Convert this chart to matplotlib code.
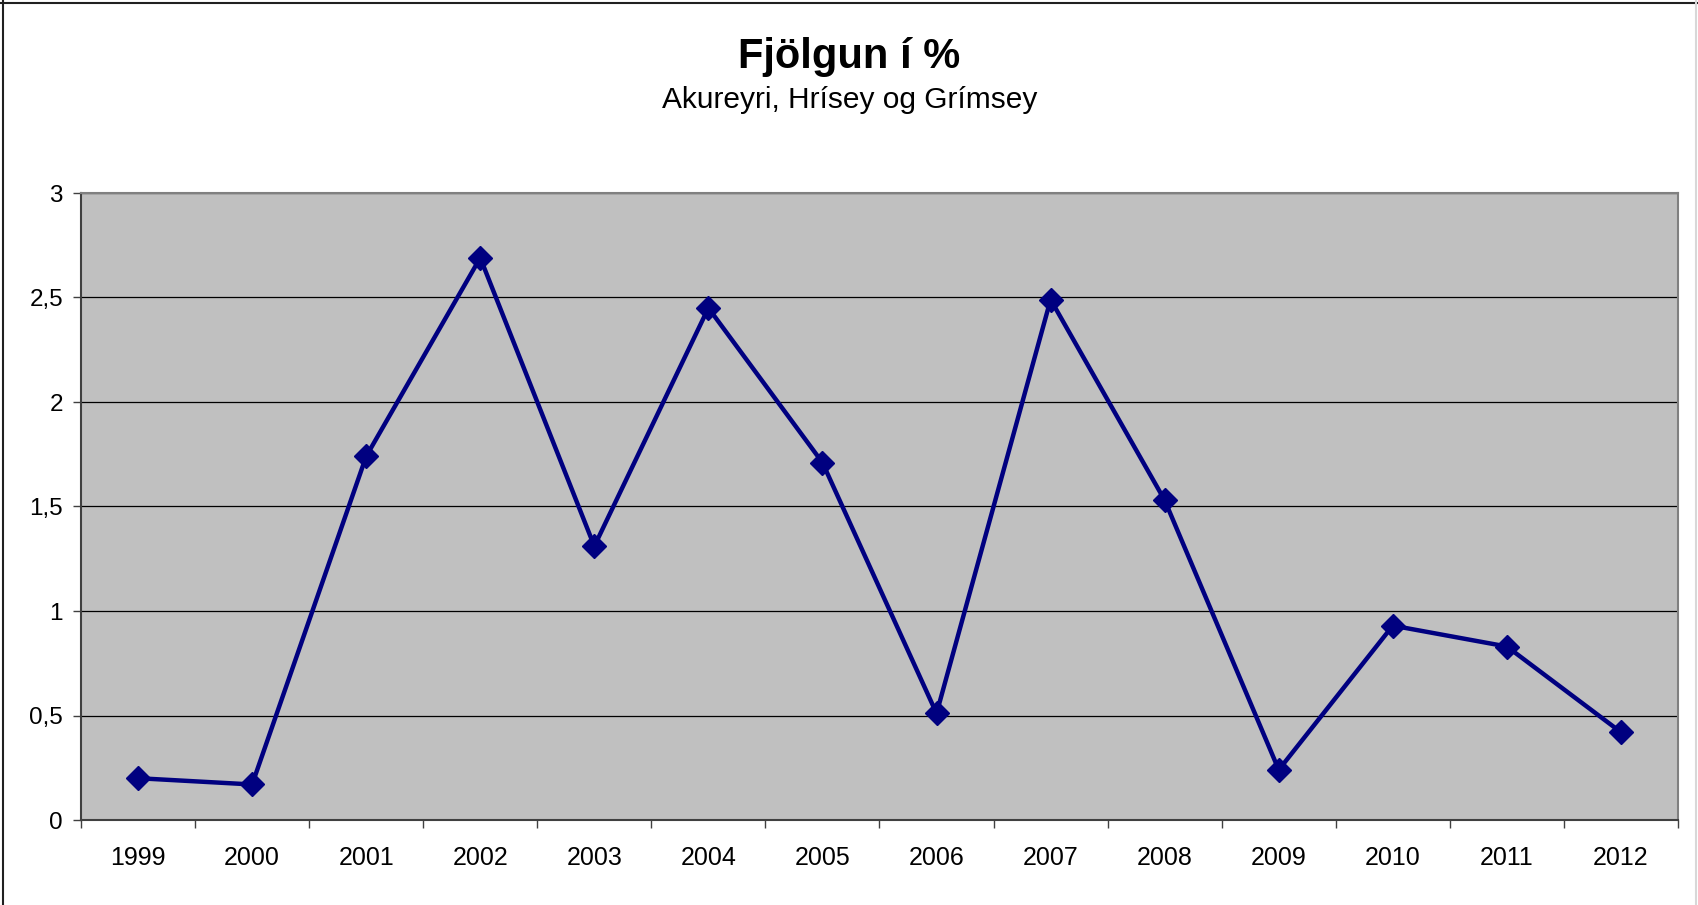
import numpy as np
import matplotlib.pyplot as plt
from matplotlib.ticker import FixedLocator, NullFormatter

years = ['1999', '2000', '2001', '2002', '2003', '2004', '2005',
         '2006', '2007', '2008', '2009', '2010', '2011', '2012']
growth = [0.20, 0.17, 1.74, 2.69, 1.31, 2.45, 1.71,
          0.51, 2.49, 1.53, 0.24, 0.93, 0.83, 0.42]
yticks = [0, 0.5, 1, 1.5, 2, 2.5, 3]

plt.rcParams['font.family'] = ['Liberation Sans', 'DejaVu Sans']

fig = plt.figure(figsize=(16.99, 9.05), dpi=100)
ax = fig.add_axes([81 / 1699, 85 / 905, 1597 / 1699, 627 / 905])
ax.set_facecolor('#C0C0C0')

x = np.arange(len(years))
ax.plot(x, growth, color='#000080', lw=3.2, marker='D', ms=12.5,
        zorder=3)

ax.set_xlim(-0.5, len(years) - 0.5)
ax.set_ylim(0, 3)

# category boundaries carry the ticks, labels sit in the middle
ax.xaxis.set_major_locator(FixedLocator(np.arange(-0.5, len(years))))
ax.xaxis.set_major_formatter(NullFormatter())
ax.set_xticks(x, years, minor=True)
ax.tick_params(axis='x', which='major', direction='out', length=6,
               width=1, color='#404040')
ax.tick_params(axis='x', which='minor', length=0, pad=19, labelsize=18)

ax.set_yticks(yticks)
ax.set_yticklabels([f'{v:g}'.replace('.', ',') for v in yticks])
ax.tick_params(axis='y', direction='out', length=6, width=1,
               color='#404040', pad=7, labelsize=17.5)

ax.yaxis.grid(True, color='black', lw=0.9)
ax.set_axisbelow(True)

for side in ['left', 'bottom']:
    ax.spines[side].set_color('#404040')
    ax.spines[side].set_linewidth(1.5)
for side in ['top', 'right']:
    ax.spines[side].set_color('#808080')
    ax.spines[side].set_linewidth(1.5)

fig.text(0.5, 1 - 57 / 905, 'Fjölgun í %', ha='center', va='center',
         fontsize=30, fontweight='bold')
fig.text(0.5, 1 - 100 / 905, 'Akureyri, Hrísey og Grímsey', ha='center',
         va='center', fontsize=21.5)

# chart frame
fig.add_artist(plt.Line2D([0, 1], [0.997, 0.997], color='#202020', lw=1.5,
                          transform=fig.transFigure))
fig.add_artist(plt.Line2D([0.0015, 0.0015], [0, 1], color='#202020', lw=1.5,
                          transform=fig.transFigure))
fig.add_artist(plt.Line2D([0.9985, 0.9985], [0, 1], color='#D8D8D8', lw=1.5,
                          transform=fig.transFigure))

fig.savefig('out.png', dpi=100)
